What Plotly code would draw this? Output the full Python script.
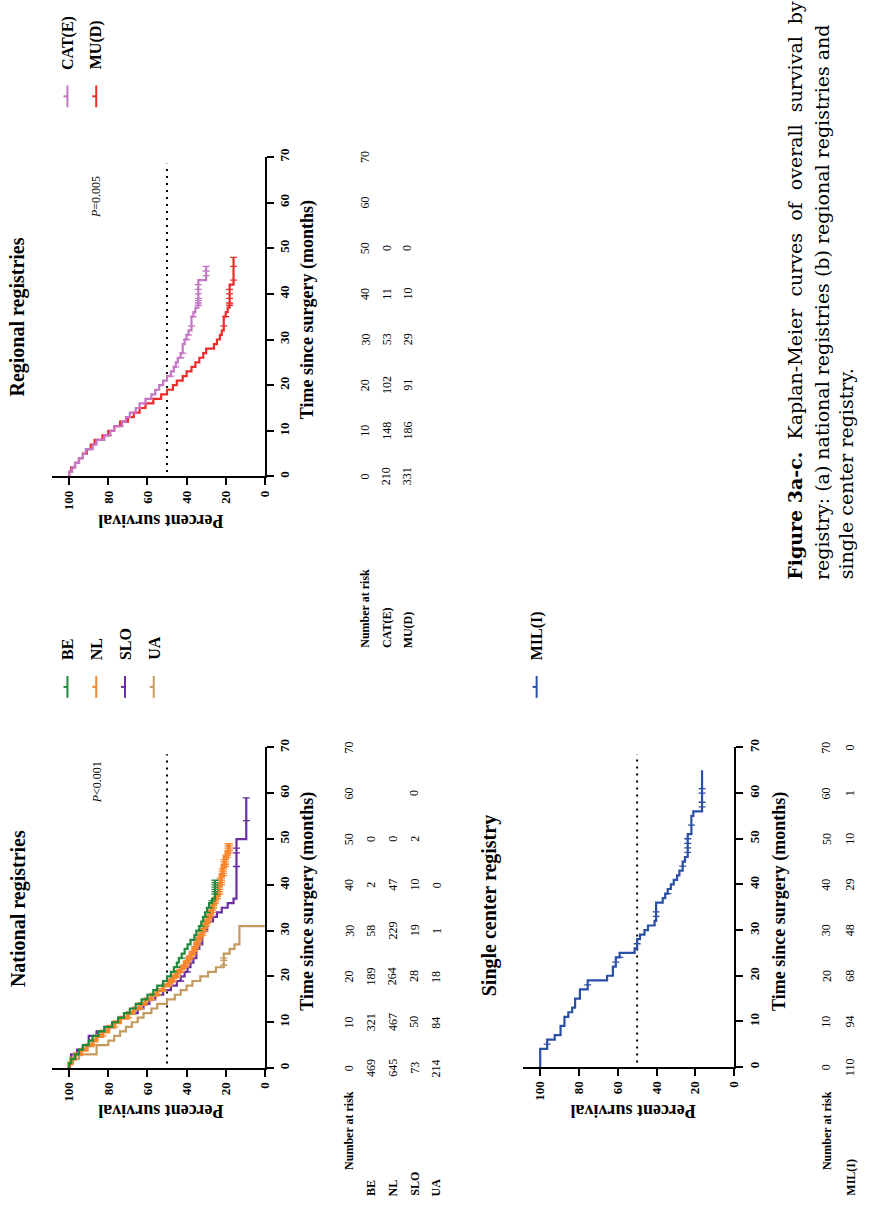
import plotly.graph_objects as go

# ---------------- data ----------------
# National registries: event times (months) and survival (%) after each step
be_t = [0, 1, 2, 3, 4, 5, 6, 7, 8, 9, 10, 11, 12, 13, 14, 15, 16, 17, 18, 19, 20, 21, 22, 23, 24, 25, 26, 27, 28, 29, 30, 31, 32, 33, 34, 35, 36, 37]
be_s = [100, 99, 97, 95, 93, 90, 88, 85, 82, 78, 75, 72, 69, 66, 63, 60, 57, 55, 52, 50, 48, 46.5, 45, 44, 42.5, 41, 39.5, 38, 36, 35, 33.5, 32.5, 31.5, 30.5, 29.5, 28.5, 27, 25.5]
be_end = 41
be_cens = [21, 22, 24, 30, 31, 33, 34, 35, 36.5, 38, 38.5, 39, 39.5, 40, 40.5, 41]

nl_t = [0, 1, 2, 3, 4, 5, 6, 7, 8, 9, 10, 11, 12, 13, 14, 15, 16, 17, 18, 19, 20, 21, 22, 23, 24, 25, 26, 27, 28, 29, 30, 31, 32, 33, 34, 35, 36, 37, 38, 40, 42, 44, 46, 47]
nl_s = [100, 99, 97, 94, 91, 88, 86, 83, 80, 77, 74, 70, 67, 64, 61, 58, 55, 52, 49, 47, 45, 43, 41, 39.5, 38, 36.5, 35.5, 34.5, 33.5, 32, 31, 30, 29, 28, 27, 26.5, 25.5, 24.5, 23.5, 22.5, 21.5, 20.5, 19.5, 18.5]
nl_end = 49
nl_cens = [3, 5, 7, 9, 11, 13, 15, 16, 17, 18, 18.5, 19, 19.5, 20, 20.5, 21, 21.5, 22, 22.5, 23, 23.5, 24, 24.5,
           25, 25.5, 26, 26.5, 27, 27.5, 28, 28.5, 29, 29.5, 30, 30.5, 31, 31.5, 32, 32.5, 33, 33.5, 34, 34.5,
           35, 35.5, 36, 36.5, 37, 37.5, 38, 38.5, 39, 39.5, 40, 40.5, 41, 41.5, 42, 42.5, 43, 43.5, 44, 44.5,
           45, 45.5, 46, 46.5, 47, 47.5, 48, 48.5, 49]

slo_t = [0, 1, 3, 4, 5, 7, 8, 9, 10, 11, 12, 13, 14, 15, 16, 17, 18, 19, 20, 21, 22, 23, 24, 26, 27, 30, 32, 33, 34, 35, 36, 37, 50]
slo_s = [100, 99, 96, 93, 90, 86, 82, 78, 74, 70, 65, 62, 59, 56, 52, 48, 45, 43, 41, 39.5, 38, 36.5, 35, 33.5, 32, 29.5, 26.5, 24.5, 22, 19, 16, 14.5, 9.5]
slo_end = 59
slo_cens = [19, 21, 44, 47, 48, 54, 59]

ua_t = [0, 1, 2, 3, 5, 6, 7, 8, 9, 10, 11, 12, 13, 14, 15, 16, 17, 18, 19, 20, 21, 22, 25, 26, 27, 31]
ua_s = [100, 98, 95, 86, 80, 77, 74, 71, 68, 65, 62, 58, 55, 50, 46, 43, 40, 37, 33, 29, 25, 21, 18, 15.5, 13, 0]
ua_end = 31
ua_cens = [22.5, 23.5, 24]

# Regional registries
cat_t = [0, 1, 2, 3, 4, 5, 6, 7, 8, 9, 10, 11, 12, 13, 14, 15, 16, 17, 18, 19, 20, 21, 22, 23, 24, 25, 26, 27, 29, 30, 31, 32, 35, 36, 37, 43]
cat_s = [100, 98.5, 97, 95, 93, 91.5, 88, 86, 82, 79, 77, 73, 71, 69, 66, 64, 61, 58, 56, 54, 52, 50, 48, 46.5, 45.5, 44.5, 43, 42, 41, 40, 39, 37.5, 36.5, 35.5, 34, 30]
cat_end = 46
cat_cens = [22, 24, 26, 27, 30, 31, 33, 35, 37.5, 38, 38.5, 39, 40, 41, 42, 44, 45, 46]

mu_t = [0, 1, 2, 3, 4, 5, 6, 7, 8, 9, 10, 11, 12, 13, 14, 15, 16, 17, 18, 19, 20, 21, 22, 23, 24, 25, 26, 27, 28, 29, 30, 31, 32, 35, 36, 37, 42]
mu_s = [100, 99, 97, 95, 93, 91, 89, 87, 83, 80, 77, 74, 70, 67, 64, 61, 57, 53, 50, 47, 45, 42, 40, 37.5, 35.5, 33.5, 31.5, 30, 26, 24.5, 23, 22, 21, 20, 19, 18, 16]
mu_end = 48
mu_cens = [9, 11, 33, 35, 37.5, 38, 39, 40, 41, 43, 46, 48]

# Single center registry
mil_t = [0, 4, 6, 7, 9, 11, 12, 13, 15, 17, 19, 20, 22, 24, 25, 26, 28, 29, 30, 31, 32, 36, 37, 38, 39, 40, 41, 42, 43, 45, 46, 51, 55, 56]
mil_s = [100, 96.4, 92.5, 89.5, 87.5, 85.5, 83.5, 82, 79.5, 75.5, 65.5, 62.5, 61, 59, 51.3, 50, 48.5, 46.2, 44.4, 41, 40.2, 36.8, 35.5, 34.2, 32.6, 31.1, 29.4, 28.2, 26.5, 25.3, 23.9, 22, 21, 16.5]
mil_end = 65
mil_cens = [5, 18, 23, 24, 27, 33, 34, 38, 44, 47, 48, 49, 50, 53, 57, 58, 60, 61]

# Number at risk
risk_times = [0, 10, 20, 30, 40, 50, 60, 70]
be_risk = [469, 321, 189, 58, 2, 0]
nl_risk = [645, 467, 264, 229, 47, 0]
slo_risk = [73, 50, 28, 19, 10, 2, 0]
ua_risk = [214, 84, 18, 1, 0]
cat_risk = [210, 148, 102, 53, 11, 0]
mu_risk = [331, 186, 91, 29, 10, 0]
mil_risk = [110, 94, 68, 48, 29, 10, 1, 0]

pct_ticks = [0, 20, 40, 60, 80, 100]
time_ticks = [0, 10, 20, 30, 40, 50, 60, 70]

caption_lines = [
    "<b>Figure 3a-c.</b>  Kaplan-Meier  curves  of  overall  survival  by",
    "registry: (a) national registries (b) regional registries and",
    "single center registry.",
]

# ---------------- style ----------------
W, H = 869, 1207
FONT = "Liberation Serif, Times New Roman, serif"
CAPFONT = "DejaVu Serif, serif"
C_BE, C_NL, C_SLO, C_UA = "#1f8a3e", "#f7882f", "#6a2f9e", "#c49a5e"
C_CAT, C_MU, C_MIL = "#c576c6", "#ee2b2b", "#2a4fa6"


def P(x):
    return x / W


def Q(y):
    return 1 - y / H


fig = go.Figure()


def add_km(t, s, t_end, cens, color, xa, ya, width=2.2, msize=5):
    xs = list(s) + [s[-1]]
    ys = list(t) + [t_end]
    fig.add_trace(go.Scatter(x=xs, y=ys, mode="lines", xaxis=xa, yaxis=ya,
                             line=dict(color=color, width=width, shape="vh"),
                             showlegend=False, hoverinfo="skip"))
    cs = []
    for c in cens:
        v = s[0]
        for ti, si in zip(t, s):
            if ti <= c:
                v = si
        cs.append(v)
    fig.add_trace(go.Scatter(x=cs, y=cens, mode="markers", xaxis=xa, yaxis=ya,
                             marker=dict(symbol="line-ew", size=msize, color=color,
                                         line=dict(color=color, width=1.3)),
                             showlegend=False, hoverinfo="skip"))


def add_half(xa, ya, y0, y1):
    fig.add_trace(go.Scatter(x=[50, 50], y=[y0, y1], mode="lines", xaxis=xa, yaxis=ya,
                             line=dict(color="black", width=2, dash="2px,5px"),
                             showlegend=False, hoverinfo="skip"))


# national
add_half("x", "y", 1, 68.5)
add_km(ua_t, ua_s, ua_end, ua_cens, C_UA, "x", "y")
add_km(slo_t, slo_s, slo_end, slo_cens, C_SLO, "x", "y")
add_km(nl_t, nl_s, nl_end, nl_cens, C_NL, "x", "y", width=4, msize=6)
add_km(be_t, be_s, be_end, be_cens, C_BE, "x", "y")
# regional
add_half("x2", "y2", 1, 68.5)
add_km(mu_t, mu_s, mu_end, mu_cens, C_MU, "x2", "y2")
add_km(cat_t, cat_s, cat_end, cat_cens, C_CAT, "x2", "y2")
# single center
add_half("x3", "y3", 1, 68.5)
add_km(mil_t, mil_s, mil_end, mil_cens, C_MIL, "x3", "y3")


def xax(x0, x1, anchor):
    return dict(domain=[P(x0), P(x1)], range=[109, 0], autorange=False, tickvals=pct_ticks,
                ticks="outside", ticklen=7, tickwidth=2, tickcolor="black",
                showline=True, linewidth=2, linecolor="black", tickangle=-90,
                tickfont=dict(family=FONT, size=13, color="black", weight="bold"),
                showgrid=False, zeroline=False, anchor=anchor, fixedrange=True)


def yax(top, bottom, anchor):
    return dict(domain=[Q(bottom), Q(top)], range=[0, 70], autorange=False, tickvals=time_ticks,
                ticks="outside", ticklen=7, tickwidth=2, tickcolor="black",
                showline=True, linewidth=2, linecolor="black", tickangle=-90, side="right",
                tickfont=dict(family=FONT, size=13, color="black", weight="bold"),
                showgrid=False, zeroline=False, anchor=anchor, fixedrange=True)


annotations = []
shapes = []


def txt(text, x, y, size, bold=False, angle=-90, xanchor="center", yanchor="middle",
        xref="paper", yref="paper", family=FONT):
    annotations.append(dict(text=text, x=x, y=y, xref=xref, yref=yref, showarrow=False,
                            textangle=angle, xanchor=xanchor, yanchor=yanchor,
                            font=dict(family=family, size=size, color="black",
                                      weight="bold" if bold else "normal"),
                            borderpad=0))


# panel titles
txt("National registries", P(18), Q(907), 20, bold=True)
txt("Regional registries", P(18), Q(311), 20, bold=True)
txt("Single center registry", P(493), Q(905), 20, bold=True)

# axis titles
txt("Time since surgery (months)", P(310), Q(900), 18, bold=True)
txt("Time since surgery (months)", P(310), Q(304), 18, bold=True)
txt("Time since surgery (months)", P(786), Q(900), 18, bold=True)
txt("Percent survival", P(162), Q(1112), 18, bold=True, angle=180)
txt("Percent survival", P(162), Q(517), 18, bold=True, angle=180)
txt("Percent survival", P(638), Q(1112), 18, bold=True, angle=180)

# p-values
txt("<i>P</i>&lt;0.001", 86, 57.5, 12, xref="x", yref="y", yanchor="bottom")
txt("<i>P</i>=0.005", 86, 56.3, 12, xref="x2", yref="y2", yanchor="bottom")


# legends
def legend_item(xc, y_text_bottom, y_mark_top, label, color):
    shapes.append(dict(type="line", xref="paper", yref="paper", x0=P(xc), x1=P(xc),
                       y0=Q(y_mark_top), y1=Q(y_mark_top + 22), line=dict(color=color, width=2)))
    shapes.append(dict(type="line", xref="paper", yref="paper", x0=P(xc - 4), x1=P(xc),
                       y0=Q(y_mark_top + 11), y1=Q(y_mark_top + 11), line=dict(color=color, width=2)))
    txt(label, P(xc), Q(y_text_bottom), 16, bold=True, yanchor="bottom")


for xc, lab, col in zip([68, 97, 126, 155], ["BE", "NL", "SLO", "UA"], [C_BE, C_NL, C_SLO, C_UA]):
    legend_item(xc, 658, 673, lab, col)
for xc, lab, col in zip([68, 97], ["CAT(E)", "MU(D)"], [C_CAT, C_MU]):
    legend_item(xc, 63, 78, lab, col)
legend_item(541, 658, 673, "MIL(I)", C_MIL)


# risk tables
def risk_table(xs, yref, label_bottom, header_bottom, names, rows):
    txt("Number at risk", P(xs[0]), Q(header_bottom), 12, bold=True, yanchor="bottom")
    for t in risk_times:
        txt(str(t), P(xs[0]), t, 12, yref=yref)
    for i, (nm, vals) in enumerate(zip(names, rows)):
        txt(nm, P(xs[i + 1]), Q(label_bottom), 12, bold=True, yanchor="bottom")
        for t, v in zip(risk_times, vals):
            txt(str(v), P(xs[i + 1]), t, 12, yref=yref)


risk_table([352, 374, 396, 418, 440], "y", 1198, 1172, ["BE", "NL", "SLO", "UA"],
           [be_risk, nl_risk, slo_risk, ua_risk])
risk_table([368, 390, 411], "y2", 646, 646, ["CAT(E)", "MU(D)"], [cat_risk, mu_risk])
risk_table([833, 857], "y3", 1198, 1172, ["MIL(I)"], [mil_risk])

# caption
for xc, line in zip([802, 828, 853], caption_lines):
    txt(line, P(xc), Q(577), 19, family=CAPFONT, yanchor="bottom")

fig.update_layout(
    width=W, height=H, margin=dict(l=0, r=0, t=0, b=0), autosize=False,
    paper_bgcolor="white", plot_bgcolor="white", showlegend=False,
    xaxis=xax(52, 267, "y"), yaxis=yax(745, 1068, "x"),
    xaxis2=xax(52, 267, "y2"), yaxis2=yax(150, 472, "x2"),
    xaxis3=xax(527, 740, "y3"), yaxis3=yax(745, 1067, "x3"),
    annotations=annotations, shapes=shapes,
)

fig.write_html("out.html", config={"displayModeBar": False},
               post_script="document.body.style.margin='0';document.body.style.overflow='hidden';")
